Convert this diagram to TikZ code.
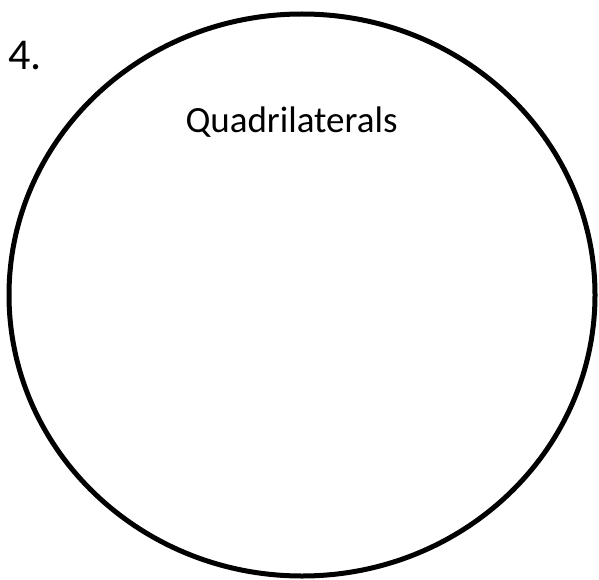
\documentclass[tikz,border=0pt]{standalone}
\usepackage{fontspec}
\setmainfont{Carlito}
\usetikzlibrary{shapes.geometric}

\tikzset{
  setline/.style={ellipse, draw, line width=5pt, minimum width=586pt, minimum height=562pt, inner sep=0pt},
  settitle/.style={anchor=base, font=\fontsize{37}{44}\selectfont},
  itemno/.style={anchor=base west, font=\fontsize{44}{52}\selectfont}
}

\begin{document}
\begin{tikzpicture}[x=1pt, y=-1pt]
    \useasboundingbox (0,0) rectangle (599,580);

    % -- Ensemble des quadrilatères --
    \node[setline] (quad) at (302,295) {};
    \node[settitle] (title) at (291.5,133) {Quadrilaterals};

    % Numéro de l'exercice
    \node[itemno] (num) at (5,70) {4.};
\end{tikzpicture}
\end{document}
